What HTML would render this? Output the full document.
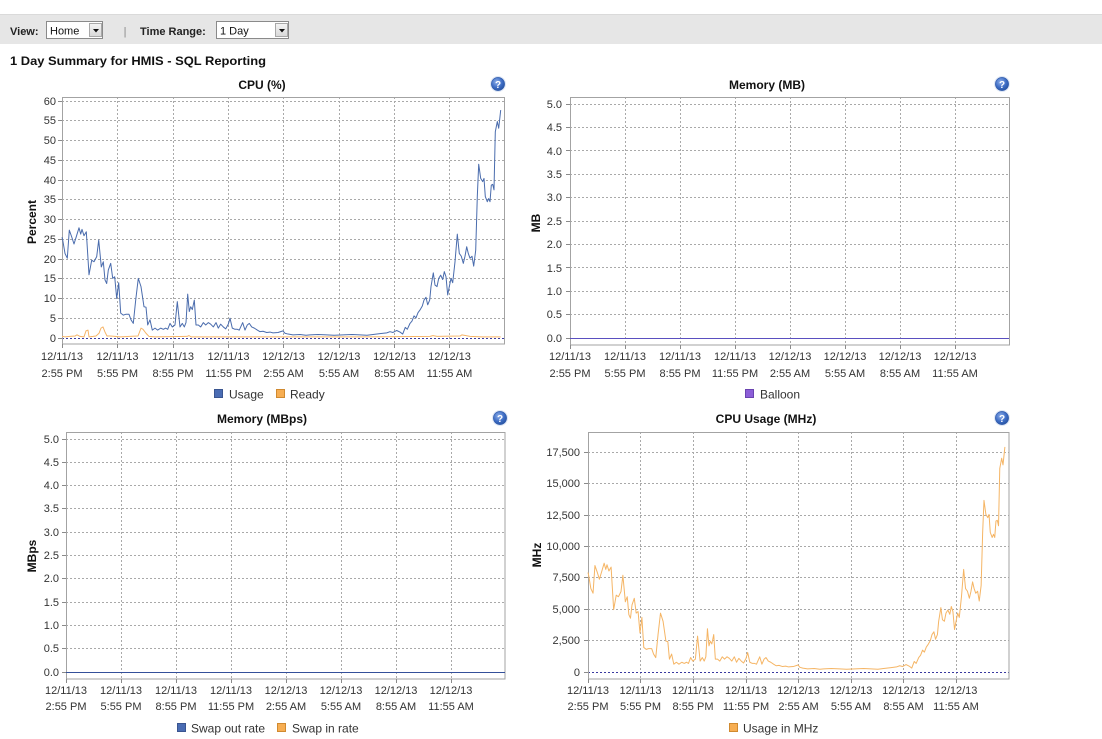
<!DOCTYPE html>
<html><head><meta charset="utf-8"><title>1 Day Summary</title>
<style>
html,body{margin:0;padding:0;background:#fff;}
svg{display:block;font-family:"Liberation Sans",Arial,sans-serif;}
.g{stroke:#a9a9a9;stroke-width:1;stroke-dasharray:2 2;fill:none;shape-rendering:crispEdges;}
.b{stroke:#a3a3a3;stroke-width:1;fill:none;shape-rendering:crispEdges;}
.tk{stroke:#8a8a8a;stroke-width:1;shape-rendering:crispEdges;}
.z{stroke:#3a3aa0;stroke-width:1;stroke-dasharray:2 2;fill:none;shape-rendering:crispEdges;}
.yl{font-size:11px;fill:#333;text-anchor:end;}
.xl{font-size:11px;fill:#333;text-anchor:middle;}
.ti{font-size:12px;font-weight:bold;fill:#111;text-anchor:middle;}
.at{font-size:12px;font-weight:bold;fill:#111;text-anchor:middle;}
.lg{font-size:12px;fill:#333;}
.hb{font-size:11px;font-weight:bold;fill:#222;}
.hn{font-size:11px;fill:#111;}
.s{fill:none;stroke-width:1;vector-effect:non-scaling-stroke;stroke-linejoin:round;}
</style></head><body>
<svg width="1102" height="739" viewBox="0 0 1102 739" xmlns="http://www.w3.org/2000/svg">
<defs>
<radialGradient id="hg" cx="40%" cy="35%" r="70%">
<stop offset="0" stop-color="#8fb0ea"/><stop offset="0.6" stop-color="#3d6cc4"/><stop offset="1" stop-color="#27529f"/>
</radialGradient>
<linearGradient id="btn" x1="0" y1="0" x2="0" y2="1">
<stop offset="0" stop-color="#f4f4f4"/><stop offset="1" stop-color="#d8d8d8"/>
</linearGradient>
</defs>

<!-- Header bar -->
<rect x="0" y="14" width="1102" height="30" fill="#e6e6e6"/>
<line x1="0" y1="14.5" x2="1102" y2="14.5" stroke="#dadada"/>
<text x="10" y="35" class="hb">View:</text>
<rect x="46.5" y="21.5" width="56" height="17" fill="#fff" stroke="#8a8a8a"/>
<text x="50" y="34.5" class="hn">Home</text>
<rect x="89.5" y="23.5" width="12" height="13" fill="url(#btn)" stroke="#a8a8a8"/>
<polygon points="93,29 99,29 96,32.5" fill="#111"/>
<text x="125" y="35" font-size="11" fill="#888" text-anchor="middle">|</text>
<text x="140" y="35" class="hb">Time Range:</text>
<rect x="216.5" y="21.5" width="72" height="17" fill="#fff" stroke="#8a8a8a"/>
<text x="220" y="34.5" class="hn">1 Day</text>
<rect x="275.5" y="23.5" width="12" height="13" fill="url(#btn)" stroke="#a8a8a8"/>
<polygon points="279,29 285,29 282,32.5" fill="#111"/>

<text x="10" y="65" font-size="12" font-weight="bold" fill="#111" textLength="256" lengthAdjust="spacingAndGlyphs">1 Day Summary for HMIS - SQL Reporting</text>

<!-- ================= CPU (%) ================= -->
<text x="262" y="89" class="ti">CPU (%)</text>
<g>
<circle cx="498" cy="84" r="8" fill="#dfe7f5"/>
<circle cx="498" cy="84" r="6.6" fill="url(#hg)" stroke="#2a56a8" stroke-width="0.6"/>
<text x="498" y="88" font-size="10" font-weight="bold" fill="#fff" text-anchor="middle">?</text>
</g>
<g>
<line class="g" x1="62" x2="505" y1="101.5" y2="101.5"/>
<line class="g" x1="62" x2="505" y1="120.5" y2="120.5"/>
<line class="g" x1="62" x2="505" y1="140.5" y2="140.5"/>
<line class="g" x1="62" x2="505" y1="160.5" y2="160.5"/>
<line class="g" x1="62" x2="505" y1="180.5" y2="180.5"/>
<line class="g" x1="62" x2="505" y1="199.5" y2="199.5"/>
<line class="g" x1="62" x2="505" y1="219.5" y2="219.5"/>
<line class="g" x1="62" x2="505" y1="239.5" y2="239.5"/>
<line class="g" x1="62" x2="505" y1="259.5" y2="259.5"/>
<line class="g" x1="62" x2="505" y1="278.5" y2="278.5"/>
<line class="g" x1="62" x2="505" y1="298.5" y2="298.5"/>
<line class="g" x1="62" x2="505" y1="318.5" y2="318.5"/>
<line class="g" x1="117.5" x2="117.5" y1="97" y2="344"/>
<line class="g" x1="173.5" x2="173.5" y1="97" y2="344"/>
<line class="g" x1="228.5" x2="228.5" y1="97" y2="344"/>
<line class="g" x1="283.5" x2="283.5" y1="97" y2="344"/>
<line class="g" x1="339.5" x2="339.5" y1="97" y2="344"/>
<line class="g" x1="394.5" x2="394.5" y1="97" y2="344"/>
<line class="g" x1="449.5" x2="449.5" y1="97" y2="344"/>
<line class="z" x1="62" x2="505" y1="338.5" y2="338.5"/>
<rect class="b" x="62.5" y="97.5" width="442" height="246.5"/>
<path class="tk" d="M58 101.5h4M58 120.5h4M58 140.5h4M58 160.5h4M58 180.5h4M58 199.5h4M58 219.5h4M58 239.5h4M58 259.5h4M58 278.5h4M58 298.5h4M58 318.5h4M58 338.5h4M62.5 344v4M117.5 344v4M173.5 344v4M228.5 344v4M283.5 344v4M339.5 344v4M394.5 344v4M449.5 344v4"/>
<text class="yl" x="56" y="105">60</text>
<text class="yl" x="56" y="124">55</text>
<text class="yl" x="56" y="144">50</text>
<text class="yl" x="56" y="164">45</text>
<text class="yl" x="56" y="184">40</text>
<text class="yl" x="56" y="203">35</text>
<text class="yl" x="56" y="223">30</text>
<text class="yl" x="56" y="243">25</text>
<text class="yl" x="56" y="263">20</text>
<text class="yl" x="56" y="282">15</text>
<text class="yl" x="56" y="302">10</text>
<text class="yl" x="56" y="322">5</text>
<text class="yl" x="56" y="342">0</text>
<text class="at" transform="translate(36,222) rotate(-90)">Percent</text>
<g class="xl">
<text x="62" y="360">12/11/13</text><text x="62" y="377">2:55 PM</text>
<text x="117.5" y="360">12/11/13</text><text x="117.5" y="377">5:55 PM</text>
<text x="173" y="360">12/11/13</text><text x="173" y="377">8:55 PM</text>
<text x="228.5" y="360">12/11/13</text><text x="228.5" y="377">11:55 PM</text>
<text x="283.5" y="360">12/12/13</text><text x="283.5" y="377">2:55 AM</text>
<text x="339" y="360">12/12/13</text><text x="339" y="377">5:55 AM</text>
<text x="394.5" y="360">12/12/13</text><text x="394.5" y="377">8:55 AM</text>
<text x="449.5" y="360">12/12/13</text><text x="449.5" y="377">11:55 AM</text>
</g>
<polyline class="s" stroke="#f6b467" transform="translate(62,338) scale(1,-3.95)" points="0,0.4 3,0.3 8,0.4 13,0.5 15,0.8 18,0.4 22,0.3 24,1.8 26,2.0 27,0.3 31,0.4 34,0.5 37,1.2 39,2.5 41,2.8 43,1.5 45,0.5 48,0.5 53,0.4 58,0.3 76,0.5 79,2.5 81,2.2 84,1.2 87,0.4 93,0.3 125,0.4 127,0.6 129,0.3 200,0.3 260,0.3 300,0.3 368,0.4 371,0.6 375,0.4 398,0.5 400,0.8 404,0.6 408,0.4 420,0.3 438.7,0.3"/>
<polyline class="s" stroke="#4a6cad" transform="translate(62,338) scale(1,-3.95)" points="0,25.5 0.7,24.8 3,21.4 5.3,20.2 7.3,27.3 9.7,25.6 12,23.8 14.7,26 17,27.9 18.7,26.3 20,27.5 22,25.9 24.3,26.9 27,16 29.7,19.7 32,19.3 34.7,20.6 36.7,24.8 39.3,18 41.3,19.3 43,14.7 44.7,13.8 46.3,17.2 48.7,18.9 50.7,15.1 52.7,15.5 54.7,10 56.7,14 58.7,6.3 61.3,5.8 63.7,6 67,6 69,4.6 71.3,3.7 73.7,9.6 76.3,15.1 79,13 82,7.9 84,7.8 85.7,3.3 88,4.6 90.3,2 93,2.5 95.7,2 98.7,2.5 101.3,2.2 103.7,2.5 105.7,2.2 108,3.7 110.3,2.8 113,3.3 115.3,9.2 118,2.8 120.3,3.7 122.3,2.8 124,3.9 125.7,11.1 127.3,6.7 128.7,7.9 130.3,7.2 132.3,9.6 134,3.3 136.3,3.3 138.7,2.8 141.3,3.9 143.7,3.3 146.3,3.9 148.7,3.5 151.3,2.8 154,3.9 156.3,2.5 158.7,3.5 161.3,2.8 163.7,2.3 166.3,3.5 168,5 170.3,2.5 173,2.2 175.3,2.2 177.3,2 178.7,2.8 180.7,3.9 183,2 185.3,3.3 187.3,3.7 189.7,2.8 192.3,2.5 195.3,2 198,1.6 201,1.7 204.7,1.4 208,1.5 211,1.3 216,1.4 221,1.8 223,1.2 226,1 231,0.8 238,0.9 244,0.7 248,0.8 256,0.9 264.7,0.8 272,0.7 281,0.8 290,0.9 298,0.8 305,0.7 311,0.9 318,1.1 324.7,1.3 328,1.6 331,1.4 334.7,1.9 338,1.5 340.7,1 343.3,2.7 345.3,2.2 348,3.7 350,4.3 352,5.6 354,5.1 356,6.4 358,7.1 360.3,8.1 362,9.6 364,10.3 365.7,8.4 367.7,9.6 369,13 371.3,16.5 373,13.4 375,13 376.7,15.1 378.7,15.9 380.7,14.8 382.3,16.8 384,15.5 385.7,10.9 387.3,13 389,15.1 390.7,14 393,19.3 395.3,26.3 397.3,21.4 399.3,20.7 401.3,18.9 403,20.7 404.7,23.1 406.3,21.4 408,20.2 410,20.7 411.7,18.2 413.7,22.2 415.3,35.8 416.7,44 418.7,40.4 420.7,39.6 422,40.4 423.3,35.8 425.3,34.5 426.7,35.3 428,34.5 429.3,38.7 430.7,38.9 432,37.5 433.3,52.2 435.3,54.8 436.7,53.1 438.7,57.7"/>
<rect x="214.5" y="389.5" width="8" height="8" fill="#4a6cb3" stroke="#3a5590"/>
<text class="lg" x="229" y="398.5">Usage</text>
<rect x="276.5" y="389.5" width="8" height="8" fill="#f7ae52" stroke="#d08a30"/>
<text class="lg" x="290" y="398.5">Ready</text>
</g>

<!-- ================= Memory (MB) ================= -->
<text x="767" y="89" class="ti">Memory (MB)</text>
<g>
<circle cx="1002" cy="84" r="8" fill="#dfe7f5"/>
<circle cx="1002" cy="84" r="6.6" fill="url(#hg)" stroke="#2a56a8" stroke-width="0.6"/>
<text x="1002" y="88" font-size="10" font-weight="bold" fill="#fff" text-anchor="middle">?</text>
</g>
<g>
<line class="g" x1="570" x2="1009" y1="104.5" y2="104.5"/>
<line class="g" x1="570" x2="1009" y1="127.5" y2="127.5"/>
<line class="g" x1="570" x2="1009" y1="150.5" y2="150.5"/>
<line class="g" x1="570" x2="1009" y1="174.5" y2="174.5"/>
<line class="g" x1="570" x2="1009" y1="197.5" y2="197.5"/>
<line class="g" x1="570" x2="1009" y1="221.5" y2="221.5"/>
<line class="g" x1="570" x2="1009" y1="244.5" y2="244.5"/>
<line class="g" x1="570" x2="1009" y1="267.5" y2="267.5"/>
<line class="g" x1="570" x2="1009" y1="291.5" y2="291.5"/>
<line class="g" x1="570" x2="1009" y1="314.5" y2="314.5"/>
<line class="g" x1="625.5" x2="625.5" y1="97" y2="345"/>
<line class="g" x1="680.5" x2="680.5" y1="97" y2="345"/>
<line class="g" x1="735.5" x2="735.5" y1="97" y2="345"/>
<line class="g" x1="790.5" x2="790.5" y1="97" y2="345"/>
<line class="g" x1="845.5" x2="845.5" y1="97" y2="345"/>
<line class="g" x1="900.5" x2="900.5" y1="97" y2="345"/>
<line class="g" x1="955.5" x2="955.5" y1="97" y2="345"/>
<rect class="b" x="570.5" y="97.5" width="439" height="247.5"/>
<path class="tk" d="M566 104.5h4M566 127.5h4M566 150.5h4M566 174.5h4M566 197.5h4M566 221.5h4M566 244.5h4M566 267.5h4M566 291.5h4M566 314.5h4M566 338.5h4M570.5 345v4M625.5 345v4M680.5 345v4M735.5 345v4M790.5 345v4M845.5 345v4M900.5 345v4M955.5 345v4"/>
<line x1="570" x2="1009" y1="338.5" y2="338.5" stroke="#5a4fc0" stroke-width="1"/>
<text class="yl" x="562" y="108">5.0</text>
<text class="yl" x="562" y="131">4.5</text>
<text class="yl" x="562" y="155">4.0</text>
<text class="yl" x="562" y="178">3.5</text>
<text class="yl" x="562" y="201">3.0</text>
<text class="yl" x="562" y="225">2.5</text>
<text class="yl" x="562" y="248">2.0</text>
<text class="yl" x="562" y="272">1.5</text>
<text class="yl" x="562" y="295">1.0</text>
<text class="yl" x="562" y="318">0.5</text>
<text class="yl" x="562" y="342">0.0</text>
<text class="at" transform="translate(540,223) rotate(-90)">MB</text>
<g class="xl">
<text x="570" y="360">12/11/13</text><text x="570" y="377">2:55 PM</text>
<text x="625" y="360">12/11/13</text><text x="625" y="377">5:55 PM</text>
<text x="680" y="360">12/11/13</text><text x="680" y="377">8:55 PM</text>
<text x="735" y="360">12/11/13</text><text x="735" y="377">11:55 PM</text>
<text x="790" y="360">12/12/13</text><text x="790" y="377">2:55 AM</text>
<text x="845" y="360">12/12/13</text><text x="845" y="377">5:55 AM</text>
<text x="900" y="360">12/12/13</text><text x="900" y="377">8:55 AM</text>
<text x="955" y="360">12/12/13</text><text x="955" y="377">11:55 AM</text>
</g>
<rect x="745.5" y="389.5" width="8" height="8" fill="#8c5ed8" stroke="#6a44b0"/>
<text class="lg" x="760" y="398.5">Balloon</text>
</g>

<!-- ================= Memory (MBps) ================= -->
<text x="262" y="423" class="ti">Memory (MBps)</text>
<g>
<circle cx="500" cy="418" r="8" fill="#dfe7f5"/>
<circle cx="500" cy="418" r="6.6" fill="url(#hg)" stroke="#2a56a8" stroke-width="0.6"/>
<text x="500" y="422" font-size="10" font-weight="bold" fill="#fff" text-anchor="middle">?</text>
</g>
<g>
<line class="g" x1="66" x2="505" y1="439.5" y2="439.5"/>
<line class="g" x1="66" x2="505" y1="462.5" y2="462.5"/>
<line class="g" x1="66" x2="505" y1="485.5" y2="485.5"/>
<line class="g" x1="66" x2="505" y1="508.5" y2="508.5"/>
<line class="g" x1="66" x2="505" y1="532.5" y2="532.5"/>
<line class="g" x1="66" x2="505" y1="555.5" y2="555.5"/>
<line class="g" x1="66" x2="505" y1="578.5" y2="578.5"/>
<line class="g" x1="66" x2="505" y1="602.5" y2="602.5"/>
<line class="g" x1="66" x2="505" y1="625.5" y2="625.5"/>
<line class="g" x1="66" x2="505" y1="648.5" y2="648.5"/>
<line class="g" x1="121.5" x2="121.5" y1="432" y2="679"/>
<line class="g" x1="176.5" x2="176.5" y1="432" y2="679"/>
<line class="g" x1="231.5" x2="231.5" y1="432" y2="679"/>
<line class="g" x1="286.5" x2="286.5" y1="432" y2="679"/>
<line class="g" x1="341.5" x2="341.5" y1="432" y2="679"/>
<line class="g" x1="396.5" x2="396.5" y1="432" y2="679"/>
<line class="g" x1="451.5" x2="451.5" y1="432" y2="679"/>
<rect class="b" x="66.5" y="432.5" width="438.5" height="246.5"/>
<path class="tk" d="M62 439.5h4M62 462.5h4M62 485.5h4M62 508.5h4M62 532.5h4M62 555.5h4M62 578.5h4M62 602.5h4M62 625.5h4M62 648.5h4M62 672.5h4M66.5 679v4M121.5 679v4M176.5 679v4M231.5 679v4M286.5 679v4M341.5 679v4M396.5 679v4M451.5 679v4"/>
<line x1="66" x2="505" y1="672.5" y2="672.5" stroke="#34509a" stroke-width="1"/>
<text class="yl" x="59" y="443">5.0</text>
<text class="yl" x="59" y="466">4.5</text>
<text class="yl" x="59" y="489">4.0</text>
<text class="yl" x="59" y="512">3.5</text>
<text class="yl" x="59" y="536">3.0</text>
<text class="yl" x="59" y="559">2.5</text>
<text class="yl" x="59" y="582">2.0</text>
<text class="yl" x="59" y="606">1.5</text>
<text class="yl" x="59" y="629">1.0</text>
<text class="yl" x="59" y="652">0.5</text>
<text class="yl" x="59" y="676">0.0</text>
<text class="at" transform="translate(36,556) rotate(-90)">MBps</text>
<g class="xl">
<text x="66" y="694">12/11/13</text><text x="66" y="710">2:55 PM</text>
<text x="121" y="694">12/11/13</text><text x="121" y="710">5:55 PM</text>
<text x="176" y="694">12/11/13</text><text x="176" y="710">8:55 PM</text>
<text x="231" y="694">12/11/13</text><text x="231" y="710">11:55 PM</text>
<text x="286" y="694">12/12/13</text><text x="286" y="710">2:55 AM</text>
<text x="341" y="694">12/12/13</text><text x="341" y="710">5:55 AM</text>
<text x="396" y="694">12/12/13</text><text x="396" y="710">8:55 AM</text>
<text x="451" y="694">12/12/13</text><text x="451" y="710">11:55 AM</text>
</g>
<rect x="177.5" y="723.5" width="8" height="8" fill="#4a6cb3" stroke="#3a5590"/>
<text class="lg" x="191" y="732.5">Swap out rate</text>
<rect x="277.5" y="723.5" width="8" height="8" fill="#f7ae52" stroke="#d08a30"/>
<text class="lg" x="292" y="732.5">Swap in rate</text>
</g>

<!-- ================= CPU Usage (MHz) ================= -->
<text x="766" y="423" class="ti">CPU Usage (MHz)</text>
<g>
<circle cx="1002" cy="418" r="8" fill="#dfe7f5"/>
<circle cx="1002" cy="418" r="6.6" fill="url(#hg)" stroke="#2a56a8" stroke-width="0.6"/>
<text x="1002" y="422" font-size="10" font-weight="bold" fill="#fff" text-anchor="middle">?</text>
</g>
<g>
<line class="g" x1="588" x2="1009" y1="452.5" y2="452.5"/>
<line class="g" x1="588" x2="1009" y1="483.5" y2="483.5"/>
<line class="g" x1="588" x2="1009" y1="515.5" y2="515.5"/>
<line class="g" x1="588" x2="1009" y1="546.5" y2="546.5"/>
<line class="g" x1="588" x2="1009" y1="577.5" y2="577.5"/>
<line class="g" x1="588" x2="1009" y1="609.5" y2="609.5"/>
<line class="g" x1="588" x2="1009" y1="640.5" y2="640.5"/>
<line class="g" x1="640.5" x2="640.5" y1="432" y2="679"/>
<line class="g" x1="693.5" x2="693.5" y1="432" y2="679"/>
<line class="g" x1="746.5" x2="746.5" y1="432" y2="679"/>
<line class="g" x1="798.5" x2="798.5" y1="432" y2="679"/>
<line class="g" x1="851.5" x2="851.5" y1="432" y2="679"/>
<line class="g" x1="903.5" x2="903.5" y1="432" y2="679"/>
<line class="g" x1="956.5" x2="956.5" y1="432" y2="679"/>
<line class="z" x1="588" x2="1009" y1="672.5" y2="672.5"/>
<rect class="b" x="588.5" y="432.5" width="420.5" height="246.5"/>
<path class="tk" d="M584 452.5h4M584 483.5h4M584 515.5h4M584 546.5h4M584 577.5h4M584 609.5h4M584 640.5h4M584 672.5h4M588.5 679v4M640.5 679v4M693.5 679v4M746.5 679v4M798.5 679v4M851.5 679v4M903.5 679v4M956.5 679v4"/>
<text class="yl" x="580" y="456">17,500</text>
<text class="yl" x="580" y="487">15,000</text>
<text class="yl" x="580" y="519">12,500</text>
<text class="yl" x="580" y="550">10,000</text>
<text class="yl" x="580" y="581">7,500</text>
<text class="yl" x="580" y="613">5,000</text>
<text class="yl" x="580" y="644">2,500</text>
<text class="yl" x="580" y="676">0</text>
<text class="at" transform="translate(541,555) rotate(-90)">MHz</text>
<g class="xl">
<text x="588" y="694">12/11/13</text><text x="588" y="710">2:55 PM</text>
<text x="640.5" y="694">12/11/13</text><text x="640.5" y="710">5:55 PM</text>
<text x="693" y="694">12/11/13</text><text x="693" y="710">8:55 PM</text>
<text x="746" y="694">12/11/13</text><text x="746" y="710">11:55 PM</text>
<text x="798.5" y="694">12/12/13</text><text x="798.5" y="710">2:55 AM</text>
<text x="851" y="694">12/12/13</text><text x="851" y="710">5:55 AM</text>
<text x="903.5" y="694">12/12/13</text><text x="903.5" y="710">8:55 AM</text>
<text x="956" y="694">12/12/13</text><text x="956" y="710">11:55 AM</text>
</g>
<polyline class="s" stroke="#f5b565" transform="translate(588,672) scale(0.9503,-3.9)" points="0,25.5 0.7,24.8 3,21.4 5.3,20.2 7.3,27.3 9.7,25.6 12,23.8 14.7,26 17,27.9 18.7,26.3 20,27.5 22,25.9 24.3,26.9 27,16 29.7,19.7 32,19.3 34.7,20.6 36.7,24.8 39.3,18 41.3,19.3 43,14.7 44.7,13.8 46.3,17.2 48.7,18.9 50.7,15.1 52.7,15.5 54.7,10 56.7,14 58.7,6.3 61.3,5.8 63.7,6 67,6 69,4.6 71.3,3.7 73.7,9.6 76.3,15.1 79,13 82,7.9 84,7.8 85.7,3.3 88,4.6 90.3,2 93,2.5 95.7,2 98.7,2.5 101.3,2.2 103.7,2.5 105.7,2.2 108,3.7 110.3,2.8 113,3.3 115.3,9.2 118,2.8 120.3,3.7 122.3,2.8 124,3.9 125.7,11.1 127.3,6.7 128.7,7.9 130.3,7.2 132.3,9.6 134,3.3 136.3,3.3 138.7,2.8 141.3,3.9 143.7,3.3 146.3,3.9 148.7,3.5 151.3,2.8 154,3.9 156.3,2.5 158.7,3.5 161.3,2.8 163.7,2.3 166.3,3.5 168,5 170.3,2.5 173,2.2 175.3,2.2 177.3,2 178.7,2.8 180.7,3.9 183,2 185.3,3.3 187.3,3.7 189.7,2.8 192.3,2.5 195.3,2 198,1.6 201,1.7 204.7,1.4 208,1.5 211,1.3 216,1.4 221,1.8 223,1.2 226,1 231,0.8 238,0.9 244,0.7 248,0.8 256,0.9 264.7,0.8 272,0.7 281,0.8 290,0.9 298,0.8 305,0.7 311,0.9 318,1.1 324.7,1.3 328,1.6 331,1.4 334.7,1.9 338,1.5 340.7,1 343.3,2.7 345.3,2.2 348,3.7 350,4.3 352,5.6 354,5.1 356,6.4 358,7.1 360.3,8.1 362,9.6 364,10.3 365.7,8.4 367.7,9.6 369,13 371.3,16.5 373,13.4 375,13 376.7,15.1 378.7,15.9 380.7,14.8 382.3,16.8 384,15.5 385.7,10.9 387.3,13 389,15.1 390.7,14 393,19.3 395.3,26.3 397.3,21.4 399.3,20.7 401.3,18.9 403,20.7 404.7,23.1 406.3,21.4 408,20.2 410,20.7 411.7,18.2 413.7,22.2 415.3,35.8 416.7,44 418.7,40.4 420.7,39.6 422,40.4 423.3,35.8 425.3,34.5 426.7,35.3 428,34.5 429.3,38.7 430.7,38.9 432,37.5 433.3,52.2 435.3,54.8 436.7,53.1 438.7,57.7"/>
<rect x="729.5" y="723.5" width="8" height="8" fill="#f7ae52" stroke="#d08a30"/>
<text class="lg" x="743" y="732.5">Usage in MHz</text>
</g>
</svg>
</body></html>
